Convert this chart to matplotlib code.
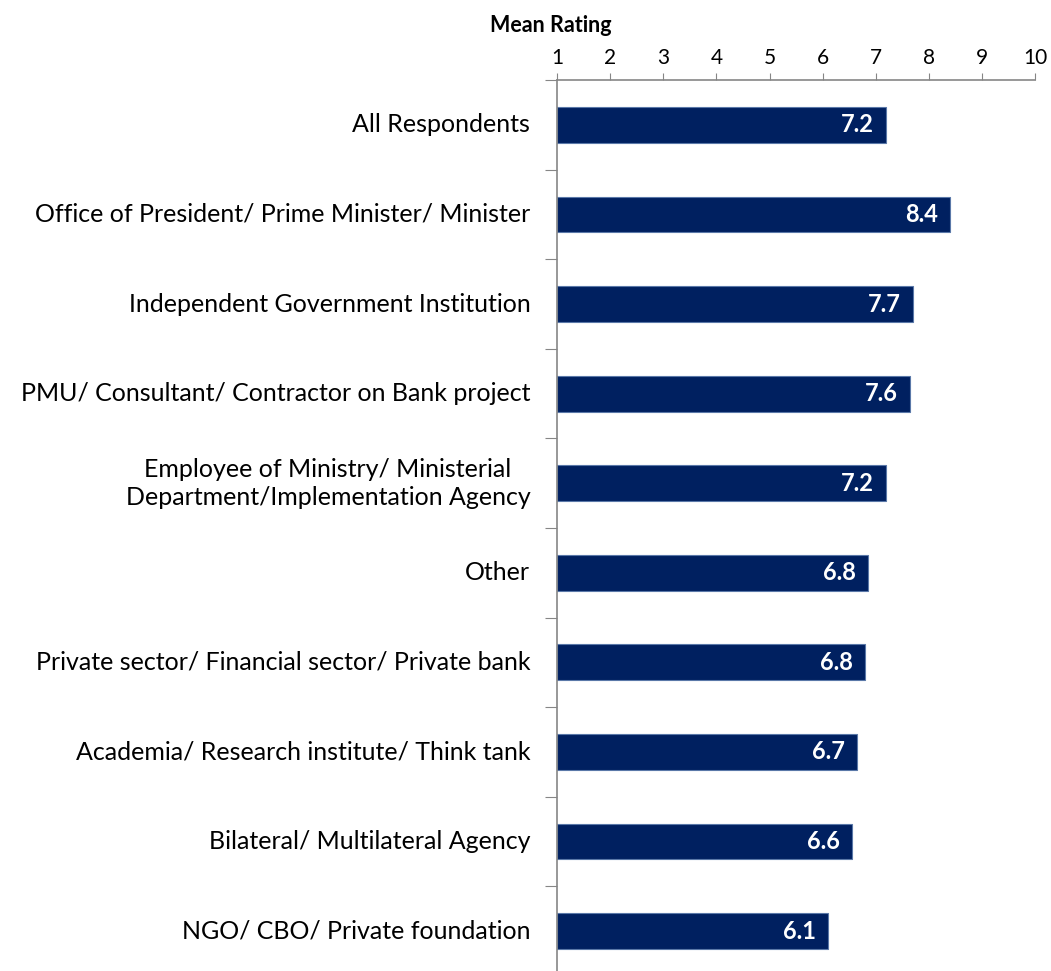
import matplotlib.pyplot as plt
import numpy as np

categories = [
    "All Respondents",
    "Office of President/ Prime Minister/ Minister",
    "Independent Government Institution",
    "PMU/ Consultant/ Contractor on Bank project",
    "Employee of Ministry/ Ministerial\nDepartment/Implementation Agency",
    "Other",
    "Private sector/ Financial sector/ Private bank",
    "Academia/ Research institute/ Think tank",
    "Bilateral/ Multilateral Agency",
    "NGO/ CBO/ Private foundation",
]
ratings = [7.2, 8.4, 7.7, 7.65, 7.2, 6.85, 6.8, 6.65, 6.55, 6.1]
labels = ["7.2", "8.4", "7.7", "7.6", "7.2", "6.8", "6.8", "6.7", "6.6", "6.1"]

plt.rcParams['font.family'] = ['Lato', 'DejaVu Sans']

fig = plt.figure(figsize=(10.51, 9.71), dpi=100)
ax = fig.add_axes([0.530, -0.005, 0.455, 0.9225])

y = np.arange(len(categories))
base = 1
ax.barh(y, np.array(ratings) - base, left=base, height=0.4,
        color='#002060', edgecolor='#5a78a8', linewidth=0.8)

for yi, v, lab in zip(y, ratings, labels):
    ax.text(v - 0.23, yi, lab, ha='right', va='center', color='white',
            fontsize=17, fontweight='bold')

ax.set_xlim(1, 10)
ax.set_ylim(len(categories) - 0.5, -0.5)
ax.xaxis.tick_top()
ax.set_xticks(range(1, 11))
ax.tick_params(axis='x', direction='out', length=5, color='#868686',
               labelsize=15, pad=4)

ax.set_yticks(y - 0.5, minor=False)
ax.set_yticklabels([])
ax.tick_params(axis='y', direction='out', length=9, color='#868686')
for yi, cat in zip(y, categories):
    ax.text(-0.056, yi, cat, transform=ax.get_yaxis_transform(),
            ha='right', va='center', multialignment='center', fontsize=18,
            linespacing=1.25)

for side in ['right', 'bottom']:
    ax.spines[side].set_visible(False)
for side in ['top', 'left']:
    ax.spines[side].set_color('#868686')
    ax.spines[side].set_linewidth(1.2)

fig.text(551 / 1051, 1 - 25 / 971, "Mean Rating", ha='center', va='center',
         fontsize=15.5, fontweight='bold')

fig.savefig('out.png', dpi=100)
